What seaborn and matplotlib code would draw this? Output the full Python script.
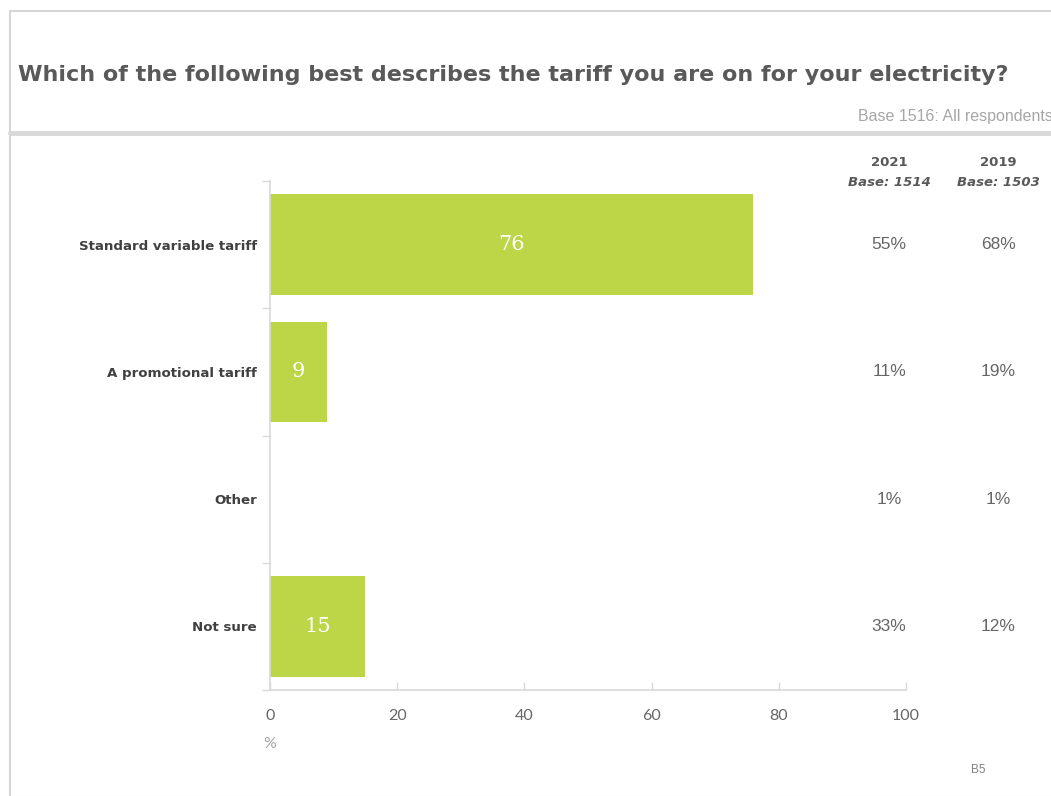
import matplotlib
matplotlib.use("Agg")
import matplotlib.pyplot as plt
from matplotlib.ticker import FixedLocator
from matplotlib.patches import Rectangle
from matplotlib.lines import Line2D
from matplotlib.transforms import blended_transform_factory
import seaborn as sns
import pandas as pd

# Survey responses
categories = ["Standard variable tariff", "A promotional tariff", "Other", "Not sure"]
share_pct = [76, 9, 0, 15]
year_2021 = ["55%", "11%", "1%", "33%"]
year_2019 = ["68%", "19%", "1%", "12%"]
x_ticks = [0, 20, 40, 60, 80, 100]

title = "Which of the following best describes the tariff you are on for your electricity?"
base_note = "Base 1516: All respondents"
col_headers = [("2021", "Base: 1514"), ("2019", "Base: 1503")]

GREEN = "#bdd648"
GRID = "#d9d9d9"
TXT = "#595959"
BOLD_FONT = ["DejaVu Sans"]

sns.set_theme(style="white")
plt.rcParams["font.family"] = ["Liberation Sans", "DejaVu Sans"]

W, H = 1051, 796
fig = plt.figure(figsize=(W / 100, H / 100), dpi=100)


def fx(px):
    return px / W


def fy(py):
    return 1 - py / H


# Panel frame and separator
fig.add_artist(Rectangle((fx(9.5), fy(797)), fx(1100), fy(11) - fy(797),
                         transform=fig.transFigure, fill=False,
                         edgecolor="#d6d6d6", linewidth=1.5))
fig.add_artist(Line2D([fx(10), 1.0], [fy(132.5), fy(132.5)],
                      transform=fig.transFigure, color="#d9d9d9", linewidth=3.5))

fig.text(fx(18), fy(75), title, fontsize=16, fontweight="bold", color=TXT,
         family=["DejaVu Sans"], va="center", ha="left")
fig.text(fx(858), fy(116), base_note, fontsize=11.5, color="#a6a6a6",
         va="center", ha="left")

ax = fig.add_axes([fx(270), fy(690), fx(906) - fx(270), fy(181) - fy(690)])

df = pd.DataFrame({"category": categories, "share": share_pct})
sns.barplot(data=df, x="share", y="category", color=GREEN, saturation=1,
            width=0.79, ax=ax, orient="h", linewidth=0, edgecolor="none")

ax.set_xlim(0, 100)
ax.set_ylim(3.5, -0.5)
ax.set_xlabel("")
ax.set_ylabel("")

# Bar value labels, skipping empty bars
for cont in ax.containers:
    labels = [f"{v:g}" if v > 0 else "" for v in cont.datavalues]
    ax.bar_label(cont, labels=labels, label_type="center", color="white",
                 fontsize=15, family=["DejaVu Serif"])

# Axis styling
for side in ["top", "right"]:
    ax.spines[side].set_visible(False)
for side in ["left", "bottom"]:
    ax.spines[side].set_color(GRID)
    ax.spines[side].set_linewidth(1.2)

ax.set_xticks(x_ticks)
ax.tick_params(axis="x", bottom=True, direction="in", length=6, color=GRID,
               width=1, pad=14, labelsize=11.5, labelcolor="#666666")
for lab in ax.get_xticklabels():
    lab.set_family(["Lato", "DejaVu Sans"])

ax.tick_params(axis="y", which="major", left=False, length=0, pad=9.5,
               labelsize=9.6, labelcolor="#404040")
for lab in ax.get_yticklabels():
    lab.set_fontweight("bold")
    lab.set_family(BOLD_FONT)
ax.yaxis.set_minor_locator(FixedLocator([-0.5, 0.5, 1.5, 2.5, 3.5]))
ax.tick_params(axis="y", which="minor", left=True, direction="out", length=6,
               color=GRID, width=1)

# Comparison columns
col_x = [889, 998]
for cx, (yr, base) in zip(col_x, col_headers):
    fig.text(fx(cx), fy(162), yr, fontsize=9.5, fontweight="bold", color=TXT,
             family=BOLD_FONT, ha="center", va="center")
    fig.text(fx(cx), fy(183), base, fontsize=9.5, fontweight="bold",
             style="italic", color=TXT, family=BOLD_FONT,
             ha="center", va="center")

row_tf = blended_transform_factory(fig.transFigure, ax.transData)
for i, (a, b) in enumerate(zip(year_2021, year_2019)):
    ax.text(fx(col_x[0]), i, a, transform=row_tf, ha="center", va="center",
            fontsize=12.5, color="#666666", clip_on=False)
    ax.text(fx(col_x[1]), i, b, transform=row_tf, ha="center", va="center",
            fontsize=12.5, color="#666666", clip_on=False)

# Unit and slide reference
fig.text(fx(270), fy(744), "%", fontsize=11.5, color="#a6a6a6",
         family=["Lato", "DejaVu Sans"], ha="center", va="center")
fig.text(fx(978), fy(770), "B5", fontsize=8.5, color="#808080",
         ha="center", va="center")

fig.savefig("out.png", dpi=100)
